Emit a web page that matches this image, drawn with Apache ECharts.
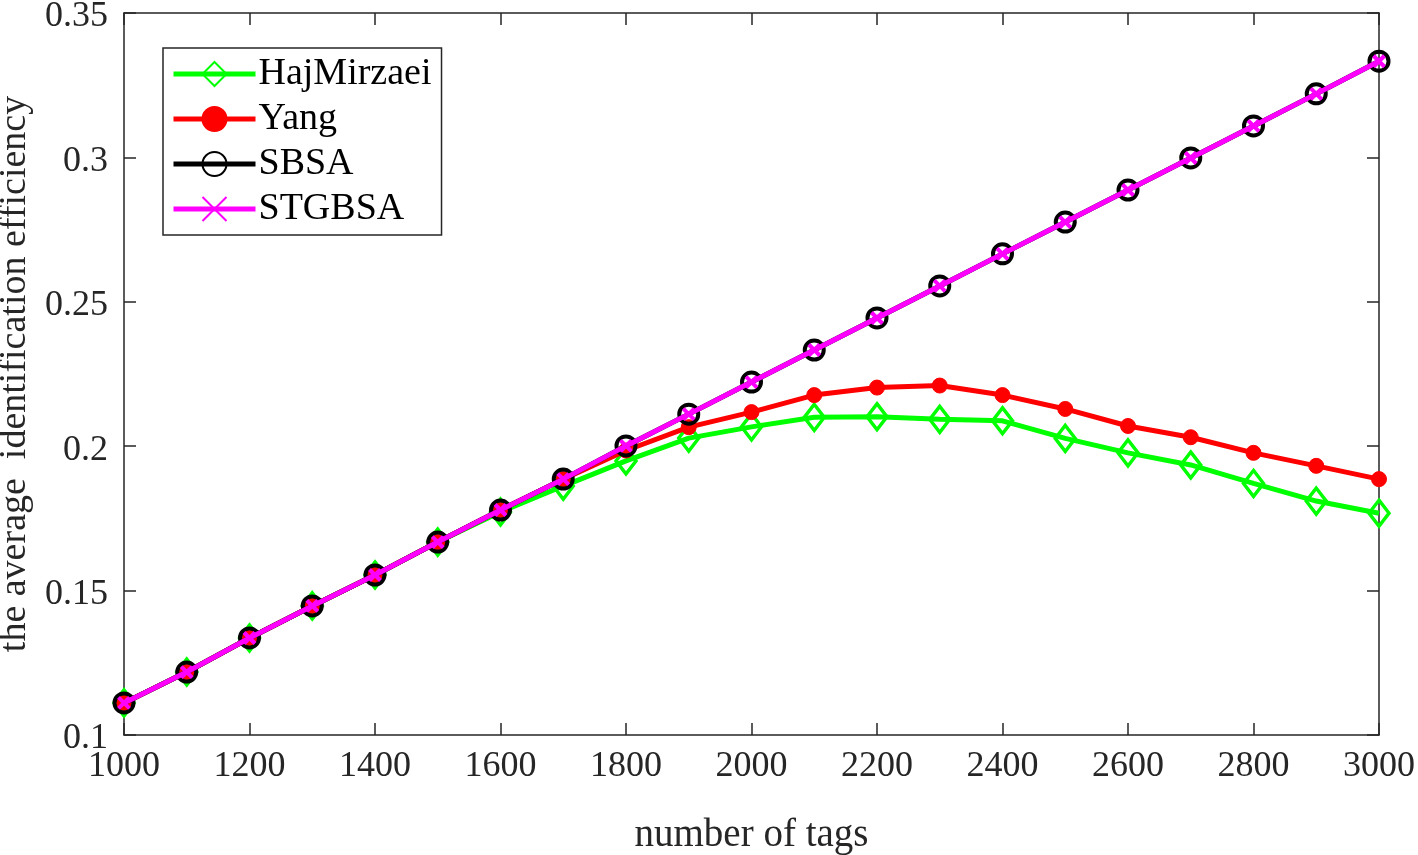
<!DOCTYPE html>
<html>
<head>
<meta charset="utf-8">
<script src="https://cdn.jsdelivr.net/npm/echarts@6/dist/echarts.min.js"></script>
<style>html,body{margin:0;padding:0;background:#fff}#c{width:1418px;height:855px}</style>
</head>
<body>
<div id="c"></div>
<script>
const tags = [1000,1100,1200,1300,1400,1500,1600,1700,1800,1900,2000,2100,2200,2300,2400,2500,2600,2700,2800,2900,3000];
const hajMirzaei = [0.1111,0.1218,0.1336,0.1447,0.1554,0.1668,0.1772,0.1862,0.1949,0.2028,0.2067,0.2100,0.2102,0.2093,0.2088,0.2027,0.1977,0.1935,0.1871,0.1810,0.1768];
const yang = [0.1111,0.1218,0.1336,0.1447,0.1554,0.1668,0.1779,0.1886,0.1985,0.2066,0.2118,0.2177,0.2203,0.2210,0.2177,0.2129,0.2070,0.2031,0.1977,0.1932,0.1886];
const sbsa = [0.1111,0.1218,0.1336,0.1447,0.1554,0.1668,0.1779,0.1886,0.2001,0.2111,0.2222,0.2333,0.2444,0.2555,0.2666,0.2776,0.2887,0.2998,0.3109,0.3220,0.3333];
const stgbsa = [0.1111,0.1218,0.1336,0.1447,0.1554,0.1668,0.1779,0.1886,0.2001,0.2111,0.2222,0.2333,0.2444,0.2555,0.2666,0.2776,0.2887,0.2998,0.3109,0.3220,0.3333];
const xTicks = {min:1000, max:3000, interval:200};
const yTicks = {min:0.1, max:0.35, interval:0.05};

const pairs = arr => tags.map((t,i)=>[t,arr[i]]);
const FONT = 'Liberation Serif';
const axCol = '#262626';
const chart = echarts.init(document.getElementById('c'));
const baseAxis = {
  axisLine:{show:true, onZero:false, lineStyle:{color:axCol, width:1.5}},
  axisTick:{show:true, inside:true, length:12, lineStyle:{color:axCol, width:1.5}},
  splitLine:{show:false}
};
chart.setOption({
  backgroundColor:'#fff',
  animation:false,
  grid:{left:124, right:39, top:13, bottom:120, containLabel:false, outerBoundsMode:'none'},
  legend:{
    orient:'vertical', left:163, top:48,
    backgroundColor:'#fff', borderColor:'#262626', borderWidth:1.5,
    padding:[7,10,7,8], itemGap:7, itemWidth:82, itemHeight:30,
    lineStyle:{width:5},
    textStyle:{fontFamily:FONT, fontSize:38, color:'#000', padding:[0,0,0,-2]},
    data:['HajMirzaei','Yang','SBSA','STGBSA']
  },
  xAxis:[
    Object.assign({type:'value', position:'bottom', min:xTicks.min, max:xTicks.max, interval:xTicks.interval,
      name:'number of tags', nameLocation:'middle', nameGap:81,
      nameTextStyle:{fontFamily:FONT, fontSize:39, color:'#262626'},
      axisLabel:{fontFamily:FONT, fontSize:36, color:'#262626', margin:14, formatter:v=>String(v)}}, baseAxis),
    Object.assign({type:'value', position:'top', min:xTicks.min, max:xTicks.max, interval:xTicks.interval,
      axisLabel:{show:false}}, baseAxis)
  ],
  yAxis:[
    Object.assign({type:'value', position:'left', min:yTicks.min, max:yTicks.max, interval:yTicks.interval,
      name:'the average  identification efficiency', nameLocation:'middle', nameGap:72,
      nameTextStyle:{fontFamily:FONT, fontSize:38, color:'#262626'},
      axisLabel:{margin:16, formatter:v=>'{a|'+v+'}',
        rich:{a:{fontFamily:FONT, fontSize:36, color:'#262626', padding:[8,0,0,0]}}}}, baseAxis),
    Object.assign({type:'value', position:'right', min:yTicks.min, max:yTicks.max, interval:yTicks.interval,
      axisLabel:{show:false}}, baseAxis)
  ],
  series:[
    {name:'HajMirzaei', type:'line', data:pairs(hajMirzaei), symbol:'diamond', symbolSize:[20,26],
      lineStyle:{color:'#00ff00', width:5}, itemStyle:{color:'rgba(0,0,0,0)', borderColor:'#00ff00', borderWidth:3.5}, z:2},
    {name:'Yang', type:'line', data:pairs(yang), symbol:'circle', symbolSize:15,
      lineStyle:{color:'#ff0000', width:5}, itemStyle:{color:'#ff0000', borderColor:'#ff0000', borderWidth:1}, z:3},
    {name:'SBSA', type:'line', data:pairs(sbsa), symbol:'circle', symbolSize:19,
      lineStyle:{color:'#000', width:5}, itemStyle:{color:'rgba(0,0,0,0)', borderColor:'#000', borderWidth:4}, z:4},
    {name:'STGBSA', type:'line', data:pairs(stgbsa), symbol:'path://M0,0 L10,10 M10,0 L0,10', symbolSize:11,
      lineStyle:{color:'#ff00ff', width:5}, itemStyle:{color:'#ff00ff', borderColor:'#ff00ff', borderWidth:4}, z:5}
  ]
});
</script>
</body>
</html>
